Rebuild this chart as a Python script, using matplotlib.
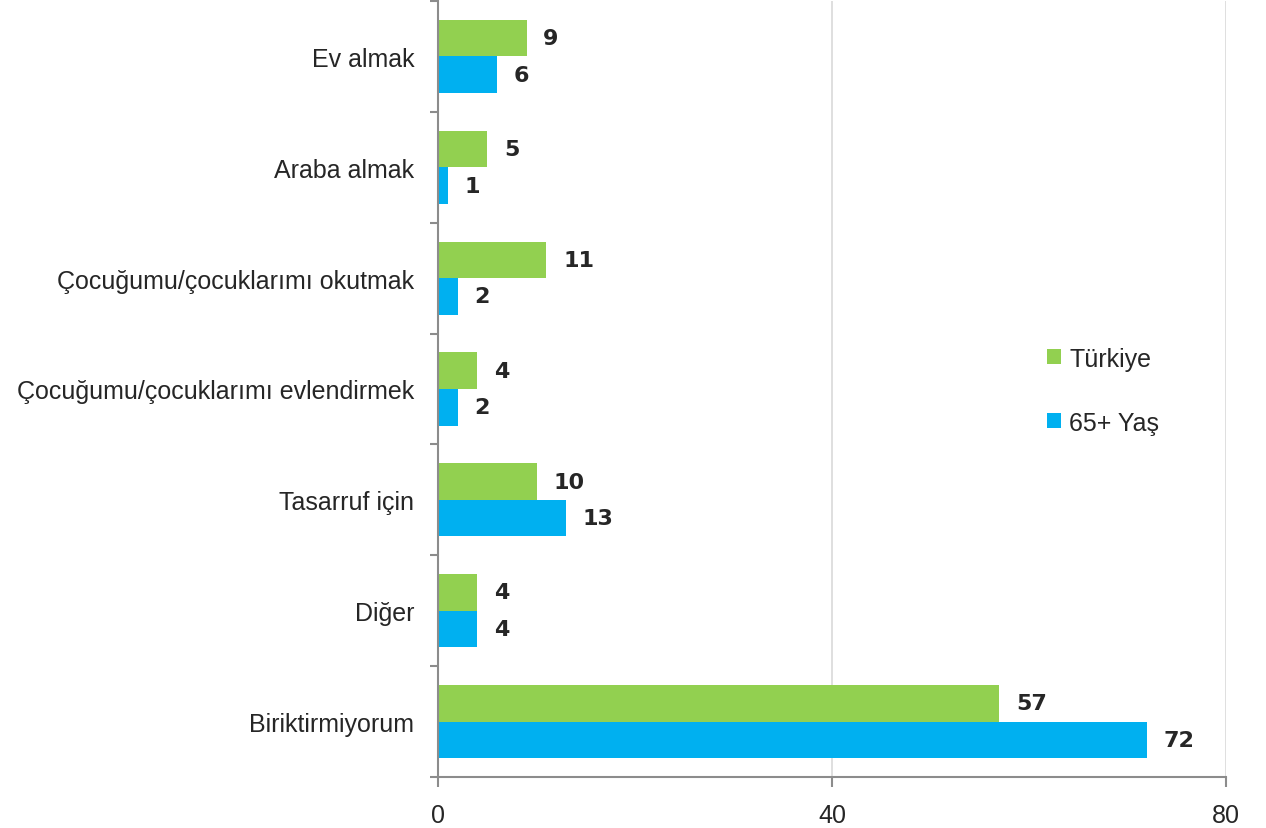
import numpy as np
import matplotlib
matplotlib.use("Agg")
import matplotlib.pyplot as plt

categories = ["Ev almak", "Araba almak", "Çocuğumu/çocuklarımı okutmak",
              "Çocuğumu/çocuklarımı evlendirmek", "Tasarruf için", "Diğer",
              "Biriktirmiyorum"]
turkiye = [9, 5, 11, 4, 10, 4, 57]
yas65 = [6, 1, 2, 2, 13, 4, 72]
series_names = ["Türkiye", "65+ Yaş"]
xticks = [0, 40, 80]

green = "#92d050"
blue = "#00b0f0"
txt = "#262626"
axis_gray = "#8c8c8c"

plt.rcParams["font.family"] = ["Liberation Sans", "DejaVu Sans"]

fig = plt.figure(figsize=(12.66, 8.29), dpi=100)
ax = fig.add_axes([438 / 1266, 1 - 778 / 829, (1226 - 438) / 1266, 776 / 829])

y = np.arange(len(categories))
h = 0.33
ax.barh(y - h / 2, turkiye, height=h, color=green, label=series_names[0], zorder=2)
ax.barh(y + h / 2, yas65, height=h, color=blue, label=series_names[1], zorder=2)

# value labels
for vals, off in [(turkiye, -h / 2), (yas65, h / 2)]:
    for yi, v in zip(y, vals):
        ax.annotate(str(v), (v, yi + off), xytext=(12, 0), textcoords="offset points",
                    va="center", ha="left", fontsize=16, fontweight="bold",
                    color=txt, family="DejaVu Sans")

ax.set_ylim(len(categories) - 0.5, -0.5)
ax.set_xlim(0, 80)
ax.set_xticks(xticks)
ax.set_xticklabels([str(t) for t in xticks], fontsize=18, color=txt)
ax.set_yticks(y)
ax.set_yticklabels(categories, fontsize=18, color=txt)
ax.tick_params(axis="y", length=0, pad=17)
ax.set_yticks(np.arange(len(categories) + 1) - 0.5, minor=True)
ax.tick_params(axis="y", which="minor", length=6, color=axis_gray, width=1.5)
ax.tick_params(axis="x", length=7, color=axis_gray, width=1.5, pad=12)

ax.grid(axis="x", color="#d9d9d9", linewidth=1.2, zorder=0)
for s in ["top", "right"]:
    ax.spines[s].set_visible(False)
for s in ["left", "bottom"]:
    ax.spines[s].set_color(axis_gray)
    ax.spines[s].set_linewidth(1.5)
    ax.spines[s].set_zorder(3)

ax.legend(loc="center left", bbox_to_anchor=(0.744, 0.498), frameon=False,
          fontsize=18, handlelength=0.55, handleheight=0.55, handletextpad=0.35,
          labelspacing=1.6, labelcolor=txt)

fig.savefig("out.png", dpi=100)
